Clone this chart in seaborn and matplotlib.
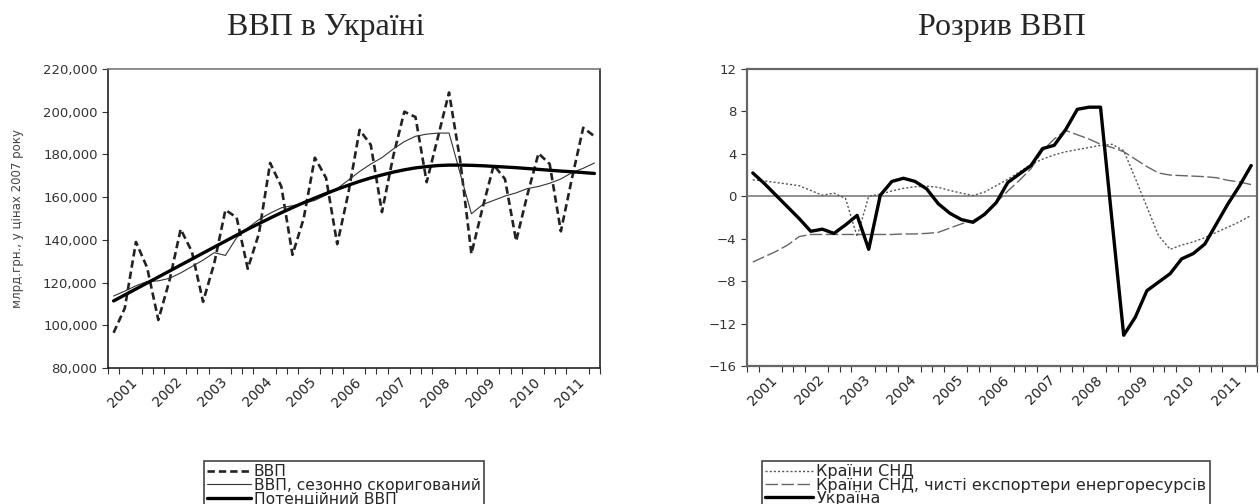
import matplotlib
matplotlib.use("Agg")
import matplotlib.pyplot as plt
import numpy as np
import seaborn as sns
from matplotlib.ticker import FuncFormatter

# quarterly axis 2001Q1..2011Q4
years = list(range(2001, 2012))
quarters = [f"{y}Q{q}" for y in years for q in range(1, 5)]

# left panel, bln UAH in 2007 prices
gdp = [96500, 108000, 139000, 127000, 102500, 121000, 145000, 134500,
       111000, 129000, 154000, 150500, 126500, 143000, 176000, 165000,
       133000, 150000, 178500, 169000, 138000, 162000, 191500, 184500,
       153000, 179000, 200000, 197500, 167000, 188000, 209000, 177000,
       133500, 155000, 175000, 168500, 139500, 161000, 180500, 175500,
       144000, 169000, 192500, 188500]
gdp_sa = [113700, 116000, 118500, 120500, 120800, 122000, 124500, 127500,
          130500, 134000, 132700, 141000, 145500, 149500, 152500, 155000,
          156000, 157000, 158500, 161000, 164000, 168000, 172000, 175500,
          178500, 182500, 186000, 188500, 189500, 190000, 190000, 171000,
          152200, 156500, 158500, 160500, 162000, 164000, 165000, 166500,
          168500, 171500, 173500, 176000]
gdp_pot = [111400, 114200, 117000, 119800, 122600, 125400, 128200, 131000,
           133800, 136600, 139400, 142200, 145000, 147600, 150200, 152700,
           155100, 157400, 159600, 161700, 163700, 165600, 167400, 169000,
           170400, 171700, 172800, 173700, 174300, 174800, 175000, 175000,
           174900, 174700, 174400, 174100, 173800, 173400, 173000, 172600,
           172200, 171900, 171500, 171100]

# right panel, output gap, %
gap_cis = [1.55, 1.45, 1.3, 1.15, 1.0, 0.55, 0.1, 0.3, -0.2, -3.8, 0.0, 0.2,
           0.5, 0.75, 0.9, 0.95, 0.85, 0.55, 0.3, 0.07, 0.4, 1.0, 1.6, 2.3,
           3.0, 3.5, 3.9, 4.2, 4.4, 4.6, 4.8, 4.9, 4.3, 1.7, -1.0, -3.7,
           -5.0, -4.6, -4.3, -3.9, -3.4, -2.9, -2.4, -1.8]
gap_cis_energy = [-6.2, -5.7, -5.2, -4.6, -3.8, -3.6, -3.6, -3.6, -3.6, -3.6,
                  -3.6, -3.6, -3.6, -3.55, -3.55, -3.5, -3.4, -3.0, -2.6, -2.3,
                  -1.6, -0.6, 0.5, 1.5, 2.6, 4.3, 5.4, 6.2, 5.8, 5.4, 4.9, 4.6,
                  4.2, 3.5, 2.8, 2.2, 2.0, 1.95, 1.9, 1.85, 1.75, 1.5, 1.35, 1.1]
gap_ukraine = [2.2, 1.2, 0.1, -1.0, -2.1, -3.3, -3.1, -3.5, -2.7, -1.8, -5.0,
               0.1, 1.4, 1.7, 1.4, 0.7, -0.7, -1.6, -2.2, -2.45, -1.7, -0.6,
               1.3, 2.1, 2.9, 4.5, 4.8, 6.3, 8.2, 8.4, 8.4, -2.4, -13.1, -11.4,
               -8.9, -8.1, -7.3, -5.9, -5.4, -4.5, -2.6, -0.7, 1.0, 2.9]

left_labels = ["ВВП", "ВВП, сезонно скоригований", "Потенційний ВВП"]
right_labels = ["Країни СНД", "Країни СНД, чисті експортери енергоресурсів", "Україна"]

sns.set_style("ticks")
plt.rcParams["font.family"] = ["DejaVu Sans"]

W, H = 1260, 504
fig = plt.figure(figsize=(W / 100, H / 100), dpi=100)


def px_axes(x0, y0, x1, y1):
    return fig.add_axes([x0 / W, 1 - y1 / H, (x1 - x0) / W, (y1 - y0) / H])


x = np.arange(len(quarters))


def quarter_axis(ax):
    ax.set_xlim(-0.5, len(quarters) - 0.5)
    # year labels in the middle of each year, quarter boundary ticks as minor
    ax.set_xticks([4 * i + 1.5 for i in range(len(years))])
    ax.set_xticklabels([str(y) for y in years], rotation=45,
                       ha="right", rotation_mode="anchor", fontsize=10)
    ax.set_xticks(np.arange(len(quarters) + 1) - 0.5, minor=True)
    ax.tick_params(axis="x", which="major", length=0, pad=5,
                   labelcolor="#222")
    ax.tick_params(axis="x", which="minor", direction="out", length=4,
                   width=0.8, color="#333", bottom=True)
    ax.tick_params(axis="y", direction="out", length=4, width=0.8,
                   color="#333", left=True, labelsize=9.5, labelcolor="#333")
    ax.set_xlabel("")
    ax.set_ylabel("")


def legend_box(ax, x0, hl, fs):
    leg = ax.legend(loc="upper left", bbox_to_anchor=(x0 / W, 1 - 461 / H),
                    bbox_transform=fig.transFigure, fontsize=fs,
                    labelspacing=-0.1, handlelength=hl, handletextpad=0.2,
                    borderpad=0.2, borderaxespad=0, frameon=True,
                    fancybox=False, edgecolor="#444", framealpha=1)
    leg.get_frame().set_linewidth(1.2)


# ---- left: GDP
ax1 = px_axes(108, 69, 600, 368)
sns.lineplot(x=x, y=gdp, ax=ax1, color="#222", lw=1.9,
             linestyle=(0, (2.8, 1.5)), label=left_labels[0])
sns.lineplot(x=x, y=gdp_sa, ax=ax1, color="#333", lw=0.8, label=left_labels[1])
sns.lineplot(x=x, y=gdp_pot, ax=ax1, color="black", lw=2.4, label=left_labels[2])
ax1.set_ylim(80000, 220000)
ax1.set_yticks(range(80000, 220001, 20000))
ax1.yaxis.set_major_formatter(FuncFormatter(lambda v, p: f"{int(v):,}"))
quarter_axis(ax1)
for s in ax1.spines.values():
    s.set_color("#222")
    s.set_linewidth(1.2)
ax1.spines["top"].set_color("#777")
legend_box(ax1, 204, 2.8, 11.2)

fig.text(18 / W, 1 - 219 / H, "млрд.грн., у цінах 2007 року", rotation=90,
         ha="center", va="center", fontsize=8.5, color="#444")
fig.text(326 / W, 1 - 27 / H, "ВВП в Україні", ha="center", va="center",
         fontsize=23, family=["Liberation Serif", "DejaVu Serif"])

# ---- right: output gap
ax2 = px_axes(747, 69, 1257, 366)
ax2.axhline(0, color="#888", lw=1.3)
sns.lineplot(x=x, y=gap_cis, ax=ax2, color="#555", lw=1.0,
             linestyle=(0, (1.5, 1.5)), label=right_labels[0])
sns.lineplot(x=x, y=gap_cis_energy, ax=ax2, color="#666", lw=1.0,
             linestyle=(0, (9, 2.5)), label=right_labels[1])
sns.lineplot(x=x, y=gap_ukraine, ax=ax2, color="black", lw=2.4,
             label=right_labels[2])
ax2.set_ylim(-16, 12)
ax2.set_yticks(range(-16, 13, 4))
quarter_axis(ax2)
for s in ax2.spines.values():
    s.set_color("#666")
    s.set_linewidth(1.6)
legend_box(ax2, 762, 3.0, 11.5)

fig.text(1002 / W, 1 - 27 / H, "Розрив ВВП", ha="center", va="center",
         fontsize=23, family=["Liberation Serif", "DejaVu Serif"])

fig.savefig("out.png", dpi=100)
